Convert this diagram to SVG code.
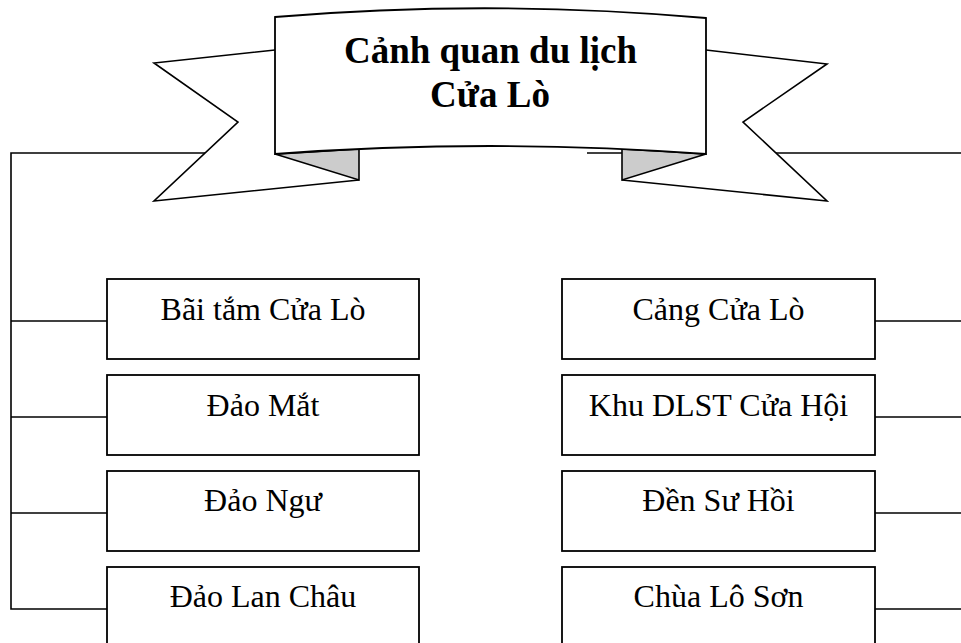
<svg xmlns="http://www.w3.org/2000/svg" width="961" height="643" viewBox="0 0 961 643">
  <style>
    .line { stroke: #000; stroke-width: 1.6; fill: none; }
    .box { fill: #fff; stroke: #000; stroke-width: 1.8; }
    .label { font-family: "Liberation Serif", "Times New Roman", serif; font-size: 32px; fill: #000; text-anchor: middle; }
    .title { font-family: "Liberation Serif", "Times New Roman", serif; font-size: 37px; font-weight: bold; fill: #000; text-anchor: middle; }
    .wingfill { fill: #fff; stroke: none; }
    .edge { fill: none; stroke: #000; stroke-width: 1.6; stroke-linejoin: miter; }
    .fold { fill: #cccccc; stroke: #000; stroke-width: 1.6; stroke-linejoin: miter; }
  </style>

  <!-- connector lines, drawn first so the ribbon covers them -->
  <g id="connectors">
    <polyline class="line" points="260,153 11,153 11,609 107,609"/>
    <line class="line" x1="11" y1="321" x2="107" y2="321"/>
    <line class="line" x1="11" y1="417" x2="107" y2="417"/>
    <line class="line" x1="11" y1="513" x2="107" y2="513"/>
    <line class="line" x1="587" y1="153" x2="961" y2="153"/>
    <line class="line" x1="875" y1="321" x2="961" y2="321"/>
    <line class="line" x1="875" y1="417" x2="961" y2="417"/>
    <line class="line" x1="875" y1="513" x2="961" y2="513"/>
    <line class="line" x1="875" y1="609" x2="961" y2="609"/>
  </g>

  <!-- ribbon banner with the title -->
  <g id="banner">
    <!-- left tail -->
    <path class="wingfill" d="M275,50 L154,63 L238,122 L154,201 L359,180 L359,140 L275,140 Z"/>
    <polyline class="edge" points="275,50 154,63 238,122 154,201 359,180"/>
    <polygon class="fold" points="275,154 359,180 359,149"/>
    <!-- right tail -->
    <path class="wingfill" d="M706,50 L827,64 L743,122 L827,201 L622,180 L622,140 L706,140 Z"/>
    <polyline class="edge" points="706,50 827,64 743,122 827,201 622,180"/>
    <polygon class="fold" points="706,154 622,180 622,149"/>
    <!-- front panel -->
    <path d="M275,17 Q490,-1 706,18 L706,154 Q490,138 275,154 Z" fill="#fff" stroke="#000" stroke-width="1.8" stroke-linejoin="miter"/>
    <text class="title" x="490.5" y="63">Cảnh quan du lịch</text>
    <text class="title" x="490" y="107">Cửa Lò</text>
  </g>

  <!-- left column -->
  <g id="node-bai-tam">
    <rect class="box" x="107" y="279" width="312" height="80"/>
    <text class="label" x="263" y="320">Bãi tắm Cửa Lò</text>
  </g>
  <g id="node-dao-mat">
    <rect class="box" x="107" y="375" width="312" height="80"/>
    <text class="label" x="263" y="416">Đảo Mắt</text>
  </g>
  <g id="node-dao-ngu">
    <rect class="box" x="107" y="471" width="312" height="80"/>
    <text class="label" x="263" y="511">Đảo Ngư</text>
  </g>
  <g id="node-dao-lan-chau">
    <rect class="box" x="107" y="567" width="312" height="90"/>
    <text class="label" x="263" y="607">Đảo Lan Châu</text>
  </g>

  <!-- right column -->
  <g id="node-cang">
    <rect class="box" x="562" y="279" width="313" height="80"/>
    <text class="label" x="718.5" y="320">Cảng Cửa Lò</text>
  </g>
  <g id="node-cua-hoi">
    <rect class="box" x="562" y="375" width="313" height="80"/>
    <text class="label" x="718.5" y="416">Khu DLST Cửa Hội</text>
  </g>
  <g id="node-den-su-hoi">
    <rect class="box" x="562" y="471" width="313" height="80"/>
    <text class="label" x="718.5" y="511">Đền Sư Hồi</text>
  </g>
  <g id="node-chua-lo-son">
    <rect class="box" x="562" y="567" width="313" height="90"/>
    <text class="label" x="718.5" y="607">Chùa Lô Sơn</text>
  </g>
</svg>
